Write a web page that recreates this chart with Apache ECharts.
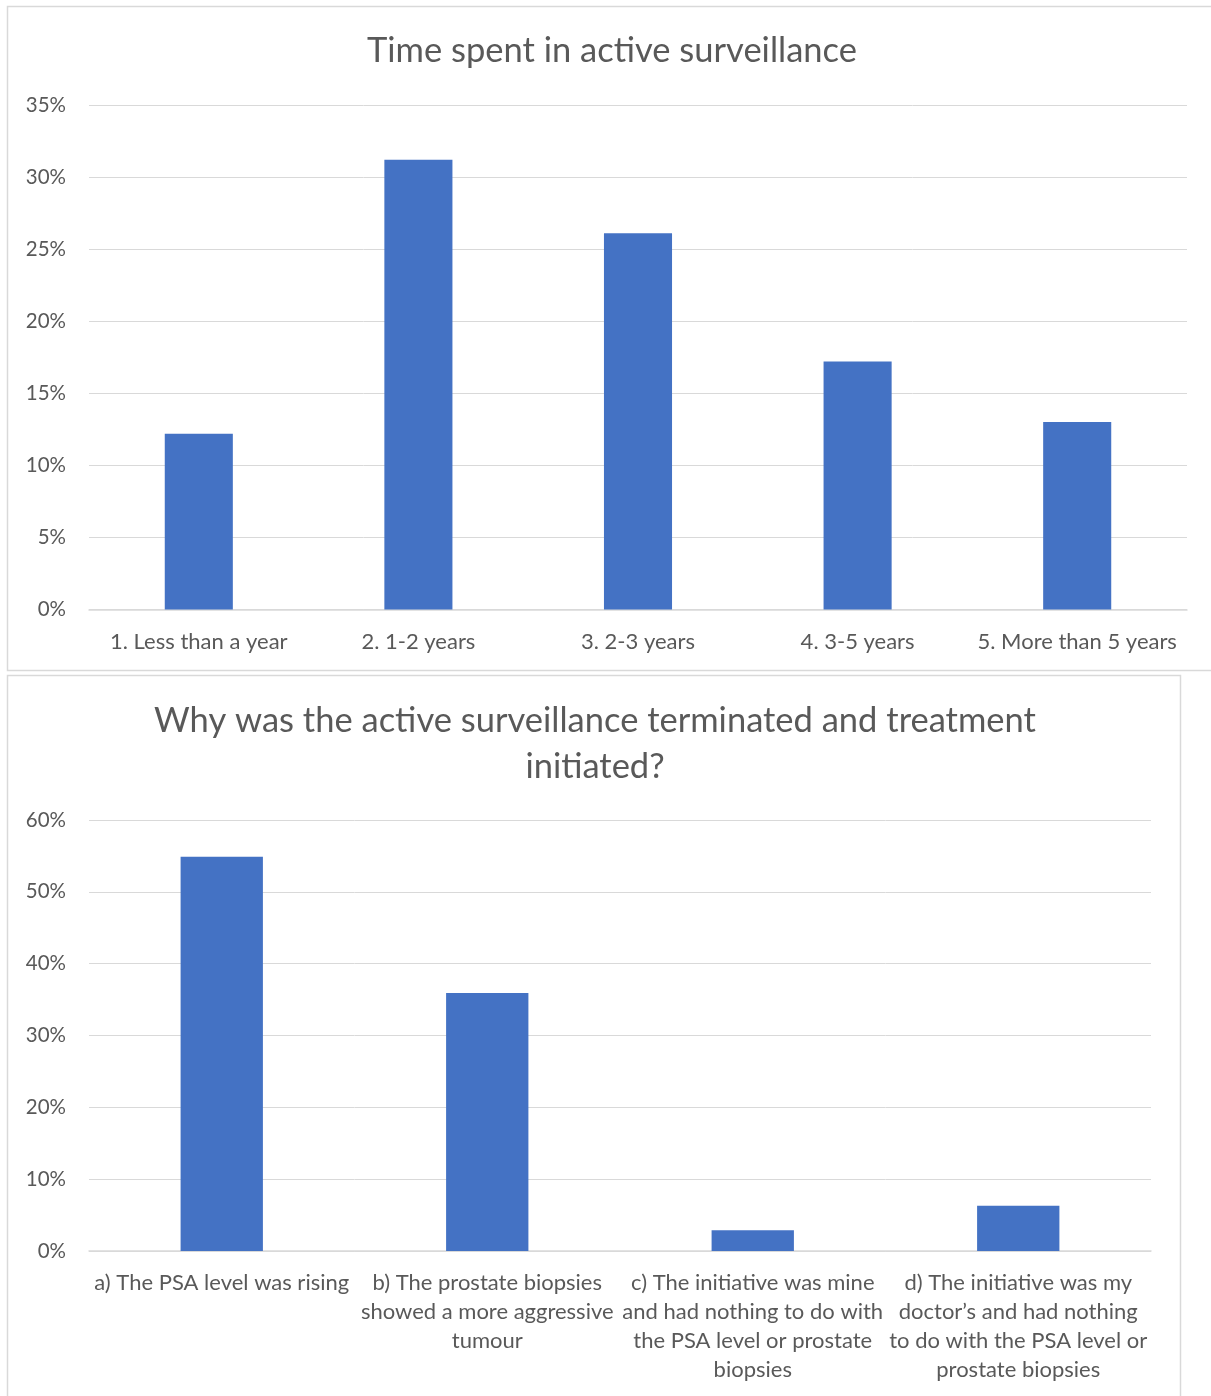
<!DOCTYPE html>
<html>
<head>
<meta charset="utf-8">
<title>Active surveillance survey</title>
<script src="https://cdn.jsdelivr.net/npm/echarts@6/dist/echarts.min.js"></script>
<style>
  html, body { margin: 0; padding: 0; background: #ffffff; }
  #chart { width: 1211px; height: 1396px; }
</style>
</head>
<body>
<div id="chart"></div>
<script>
// Time spent in active surveillance (share of respondents, %)
const durationCategories = [
  '1. Less than a year',
  '2. 1-2 years',
  '3. 2-3 years',
  '4. 3-5 years',
  '5. More than 5 years'
];
const durationShares = [12.2, 31.2, 26.1, 17.2, 13.0];
const durationAxisMax = 35;
const durationAxisStep = 5;

// Reasons for ending active surveillance (share of respondents, %)
const reasonCategories = [
  'a) The PSA level was rising',
  'b) The prostate biopsies\nshowed a more aggressive\ntumour',
  'c) The initiative was mine\nand had nothing to do with\nthe PSA level or prostate\nbiopsies',
  'd) The initiative was my\ndoctor\u2019s and had nothing\nto do with the PSA level or\nprostate biopsies'
];
const reasonShares = [54.9, 35.9, 2.9, 6.3];
const reasonAxisMax = 60;
const reasonAxisStep = 10;

const FONT = 'Lato, "Open Sans", sans-serif';
const TEXT = '#595959';
const GRID_LINE = '#d9d9d9';
const BAR = '#4472C4';

const chart = echarts.init(document.getElementById('chart'), null, { renderer: 'canvas' });

function valueAxis(gridIndex, max, step) {
  return {
    type: 'value', gridIndex, min: 0, max, interval: step,
    axisLine: { show: false }, axisTick: { show: false },
    axisLabel: { formatter: '{value}%', color: TEXT, fontFamily: FONT, fontSize: 20.5, margin: 23 },
    splitLine: { lineStyle: { color: GRID_LINE, width: 1 } }
  };
}

function categoryAxis(gridIndex, data, margin, lineHeight) {
  return {
    type: 'category', gridIndex, data,
    axisLine: { show: true, lineStyle: { color: GRID_LINE, width: 1.5 } },
    axisTick: { show: false },
    axisLabel: { interval: 0, color: TEXT, fontFamily: FONT, fontSize: 22, lineHeight, margin }
  };
}

chart.setOption({
  animation: false,
  title: [
    {
      text: 'Time spent in active surveillance',
      left: 612, top: 31, textAlign: 'center', padding: 0,
      textStyle: { color: TEXT, fontFamily: FONT, fontSize: 34.5, fontWeight: 'normal', lineHeight: 40 }
    },
    {
      text: 'Why was the active surveillance terminated and treatment\ninitiated?',
      left: 595, top: 698, textAlign: 'center', padding: 0,
      textStyle: { color: TEXT, fontFamily: FONT, fontSize: 34.5, fontWeight: 'normal', lineHeight: 46 }
    }
  ],
  graphic: [
    { type: 'rect', shape: { x: 7.5, y: 6.5, width: 1210, height: 664 },
      style: { fill: 'none', stroke: GRID_LINE, lineWidth: 1.5 }, silent: true },
    { type: 'rect', shape: { x: 7.5, y: 675.5, width: 1173, height: 740 },
      style: { fill: 'none', stroke: GRID_LINE, lineWidth: 1.5 }, silent: true }
  ],
  grid: [
    { left: 89, right: 24, top: 105, bottom: 786.5 },
    { left: 89, right: 60, top: 820, bottom: 145 }
  ],
  xAxis: [
    categoryAxis(0, durationCategories, 20, 24),
    categoryAxis(1, reasonCategories, 17, 29)
  ],
  yAxis: [
    valueAxis(0, durationAxisMax, durationAxisStep),
    valueAxis(1, reasonAxisMax, reasonAxisStep)
  ],
  series: [
    { type: 'bar', xAxisIndex: 0, yAxisIndex: 0, data: durationShares,
      barWidth: '31%', itemStyle: { color: BAR } },
    { type: 'bar', xAxisIndex: 1, yAxisIndex: 1, data: reasonShares,
      barWidth: '31%', itemStyle: { color: BAR } }
  ]
});
</script>
</body>
</html>
